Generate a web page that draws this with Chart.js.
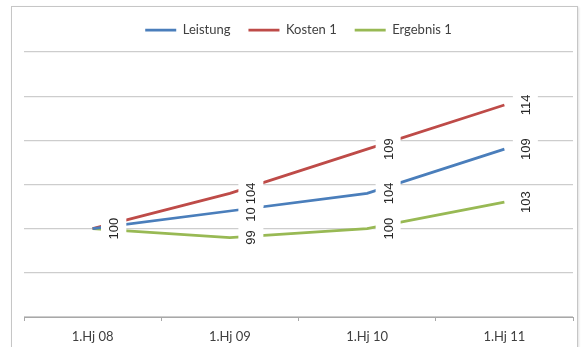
<!DOCTYPE html>
<html>
<head>
<meta charset="utf-8">
<script src="https://cdn.jsdelivr.net/npm/chart.js@4/dist/chart.umd.min.js"></script>
<style>
	html, body { margin: 0; padding: 0; background: #fff; overflow: hidden; }
	#wrap { position: relative; width: 582px; height: 347px; }
	#frame {
		position: absolute; left: 11px; top: 6px; width: 565px; height: 360px;
		border: 1px solid #c6c6c6; box-shadow: 1px 1px 2px rgba(0, 0, 0, 0.12);
	}
	canvas { position: absolute; left: 0; top: 0; }
</style>
</head>
<body>
<div id="wrap">
	<div id="frame"></div>
	<canvas id="chart" width="582" height="347"></canvas>
</div>
<script>
/* eslint-disable no-undef */
const categories = ['1.Hj 08', '1.Hj 09', '1.Hj 10', '1.Hj 11'];
const leistung = [100, 102, 104, 109];
const kosten = [100, 104, 109, 114];
const ergebnis = [100, 99, 100, 103];
const yMin = 90;
const yMax = 120;
const yStep = 5;

// Rotated value labels on a white box, right of each point
const valueLabels = {
	id: 'valueLabels',
	afterDatasetsDraw(chart) {
		const ctx = chart.ctx;
		ctx.save();
		ctx.font = '13px "Liberation Sans", Arial, sans-serif';
		ctx.textAlign = 'center';
		ctx.textBaseline = 'middle';
		chart.data.datasets.forEach((ds, i) => {
			chart.getDatasetMeta(i).data.forEach((pt, j) => {
				const text = String(ds.data[j]);
				const w = ctx.measureText(text).width;
				ctx.save();
				ctx.translate(pt.x + 21, pt.y);
				ctx.rotate(-Math.PI / 2);
				ctx.fillStyle = '#fff';
				ctx.fillRect(-w / 2 - 3, -12.5, w + 6, 25);
				ctx.fillStyle = '#262626';
				ctx.fillText(text, 0, 1);
				ctx.restore();
			});
		});
		ctx.restore();
	}
};

// a bit more room between legend and plot
const legendGap = {
	id: 'legendGap',
	beforeLayout(chart) {
		const legend = chart.legend;
		if (legend && !legend._gapPatched) {
			const fit = legend.fit.bind(legend);
			legend.fit = function () {
				fit();
				this.height += 5.5;
			};
			legend._gapPatched = true;
		}
	}
};

const line = (label, data, color) => ({
	label,
	data,
	borderColor: color,
	backgroundColor: color,
	borderWidth: 2.75,
	pointRadius: 0,
	tension: 0
});

new Chart(document.getElementById('chart'), {
	type: 'line',
	data: {
		labels: categories,
		datasets: [
			line('Leistung', leistung, '#4a7ebb'),
			line('Kosten 1', kosten, '#be4b48'),
			line('Ergebnis 1', ergebnis, '#98b954')
		]
	},
	options: {
		responsive: false,
		devicePixelRatio: 1,
		animation: false,
		layout: {
			padding: { top: 5.5, left: 24, right: 9, bottom: -5.6 }
		},
		plugins: {
			tooltip: { enabled: false },
			legend: {
				position: 'top',
				labels: {
					usePointStyle: true,
					pointStyle: 'line',
					pointStyleWidth: 31,
					boxHeight: 13,
					padding: 18,
					color: '#404040',
					font: { family: 'Lato, "Open Sans", sans-serif', size: 13 }
				}
			}
		},
		scales: {
			x: {
				offset: true,
				grid: {
					offset: true,
					drawOnChartArea: false,
					drawTicks: true,
					tickLength: 4,
					color: '#a8a8a8'
				},
				border: { display: true, color: '#a8a8a8', width: 1 },
				ticks: {
					padding: 8,
					color: '#404040',
					font: { family: 'Lato, "Open Sans", sans-serif', size: 13 }
				}
			},
			y: {
				min: yMin,
				max: yMax,
				ticks: { display: false, stepSize: yStep },
				grid: { drawTicks: false, color: '#cdcdcd', lineWidth: 1.2 },
				border: { display: false }
			}
		}
	},
	plugins: [valueLabels, legendGap]
});
</script>
</body>
</html>
